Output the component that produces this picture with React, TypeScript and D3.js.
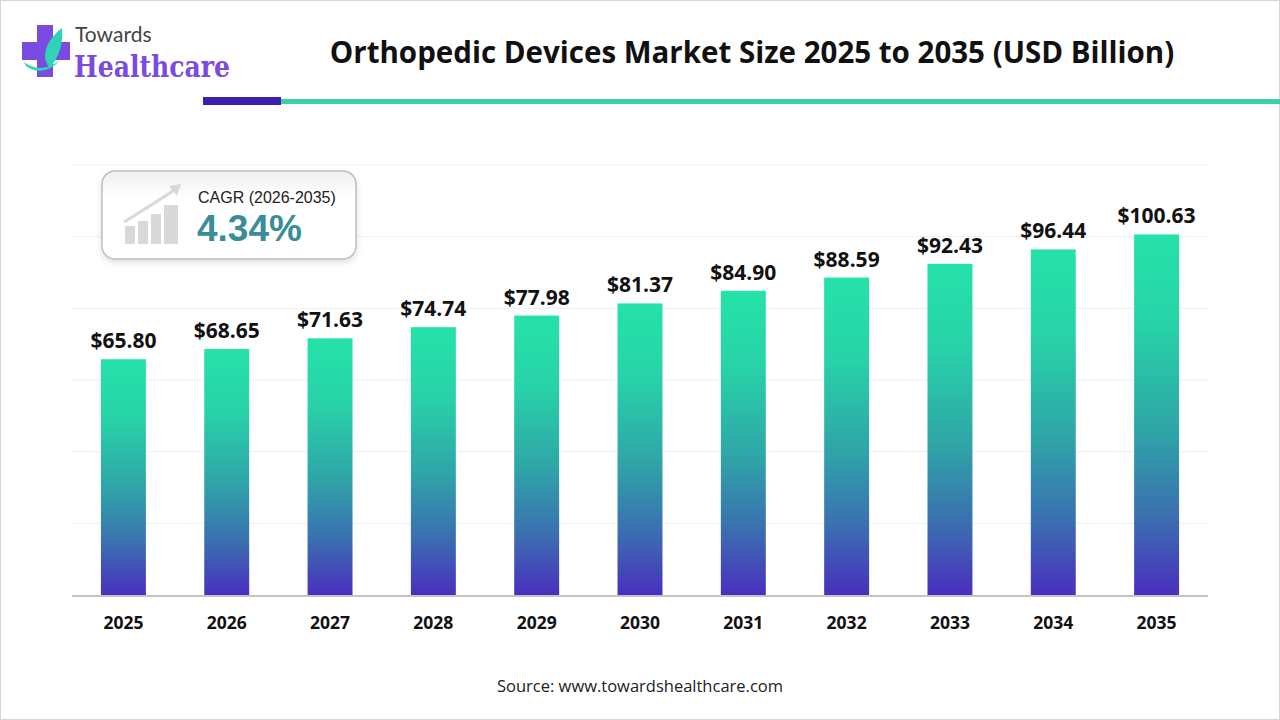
import React from "react";
import * as d3 from "d3";

const years = ["2025","2026","2027","2028","2029","2030","2031","2032","2033","2034","2035"];
const values = [65.80, 68.65, 71.63, 74.74, 77.98, 81.37, 84.90, 88.59, 92.43, 96.44, 100.63];
const gridTicks = [0, 20, 40, 60, 80, 100, 120];
const title = "Orthopedic Devices Market Size 2025 to 2035 (USD Billion)";
const cagrLabel = "CAGR (2026-2035)";
const cagrValue = "4.34%";
const source = "Source: www.towardshealthcare.com";

const W = 1280, H = 720;
const plot = { left: 72, right: 1208, top: 165, bottom: 595 };

export default function App() {
  const x = d3.scaleBand<string>().domain(years).range([plot.left, plot.right]).paddingInner(0.565).paddingOuter(0.28);
  const y = d3.scaleLinear().domain([0, 120]).range([plot.bottom, plot.top]);
  const font = "'Open Sans', 'Noto Sans', sans-serif";
  return (
    <div style={{ position: "absolute", left: 0, top: 0 }}>
      <svg width={W} height={H} style={{ display: "block" }}>
        <defs>
          <linearGradient id="barGrad" x1="0" y1="0" x2="0" y2="1">
            <stop offset="0%" stopColor="#25E2A9" />
            <stop offset="25%" stopColor="#28D3A8" />
            <stop offset="55%" stopColor="#2FA4A8" />
            <stop offset="78%" stopColor="#3A70B0" />
            <stop offset="100%" stopColor="#4A2FBE" />
          </linearGradient>
          <linearGradient id="boxGrad" x1="0" y1="0" x2="0" y2="1">
            <stop offset="0%" stopColor="#f0f0f0" />
            <stop offset="30%" stopColor="#ffffff" />
            <stop offset="100%" stopColor="#ffffff" />
          </linearGradient>
          <filter id="shadow" x="-10%" y="-20%" width="120%" height="150%">
            <feDropShadow dx="0" dy="3" stdDeviation="3" floodColor="#000" floodOpacity="0.12" />
          </filter>
        </defs>
        <rect x={0.5} y={0.5} width={W - 1} height={H - 1} fill="#fff" stroke="#d6d6d6" />

        {/* Logo */}
        <g>
          <rect x={37} y={25} width={16} height={52} fill="#7A4BE0" />
          <rect x={22} y={42} width={48} height={18} fill="#7A4BE0" />
          <path d="M62 28 C 46 40, 40 58, 50 68 C 58 58, 64 44, 62 28 Z" fill="#2FD4B8" />
          <path d="M24 62 C 34 70, 48 70, 60 60 C 50 72, 36 74, 26 66 Z" fill="#2FD4B8" />
          <text x={75} y={42} fontFamily="'Lato', 'Open Sans', sans-serif" fontSize={21} fill="#444">Towards</text>
          <text x={74} y={77} fontFamily="'DejaVu Serif', 'Liberation Serif', serif" fontWeight="bold" fontSize={30}
            fill="#7A4BE0" textLength={156} lengthAdjust="spacingAndGlyphs">Healthcare</text>
        </g>

        {/* Title */}
        <text x={752} y={63} textAnchor="middle" fontFamily={font} fontWeight="bold" fontSize={29.5} fill="#111">{title}</text>
        <rect x={203} y={97} width={78} height={8} fill="#3A1FB0" />
        <rect x={281} y={99} width={999} height={5} fill="#3ECFAA" />

        {/* Gridlines */}
        {gridTicks.slice(1).map(t => (
          <line key={t} x1={plot.left} x2={plot.right} y1={y(t)} y2={y(t)} stroke="#efefef" strokeWidth={1} />
        ))}

        {/* Bars */}
        {values.map((v, i) => (
          <rect key={years[i]} x={x(years[i])} y={y(v)} width={x.bandwidth()} height={y(0) - y(v)} fill="url(#barGrad)" />
        ))}
        <line x1={plot.left} x2={plot.right} y1={y(0) + 1} y2={y(0) + 1} stroke="#c4c4c4" strokeWidth={2} />

        {/* Value labels */}
        {values.map((v, i) => (
          <text key={"v" + i} x={(x(years[i]) as number) + x.bandwidth() / 2} y={y(v) - 11} textAnchor="middle"
            fontFamily={font} fontWeight="bold" fontSize={21} fill="#111">{"$" + v.toFixed(2)}</text>
        ))}

        {/* Year labels */}
        {years.map(yr => (
          <text key={yr} x={(x(yr) as number) + x.bandwidth() / 2} y={629} textAnchor="middle"
            fontFamily={font} fontWeight="bold" fontSize={17.5} fill="#111">{yr}</text>
        ))}

        {/* CAGR box */}
        <g filter="url(#shadow)">
          <rect x={102} y={171} width={254} height={88} rx={13} fill="url(#boxGrad)" stroke="#bdbdbd" strokeWidth={1.5} />
        </g>
        <g fill="#d9d9d9">
          <rect x={125} y={226} width={10} height={18} />
          <rect x={138} y={221} width={10} height={23} />
          <rect x={151} y={214} width={10} height={30} />
          <rect x={164} y={205} width={14} height={39} />
          <path d="M124 222 C 140 212, 160 200, 174 190" stroke="#d9d9d9" strokeWidth={3} fill="none" />
          <path d="M169 186 L 181 184 L 177 196 Z" />
        </g>
        <text x={198} y={203} fontFamily="'Liberation Sans', Arial, sans-serif" fontSize={16} fill="#222">{cagrLabel}</text>
        <text x={197} y={241} fontFamily="'Liberation Sans', Arial, sans-serif" fontWeight="bold" fontSize={37} fill="#3A8C98">{cagrValue}</text>

        {/* Source */}
        <text x={640} y={692} textAnchor="middle" fontFamily={font} fontSize={16.5} fill="#222">{source}</text>
      </svg>
    </div>
  );
}
